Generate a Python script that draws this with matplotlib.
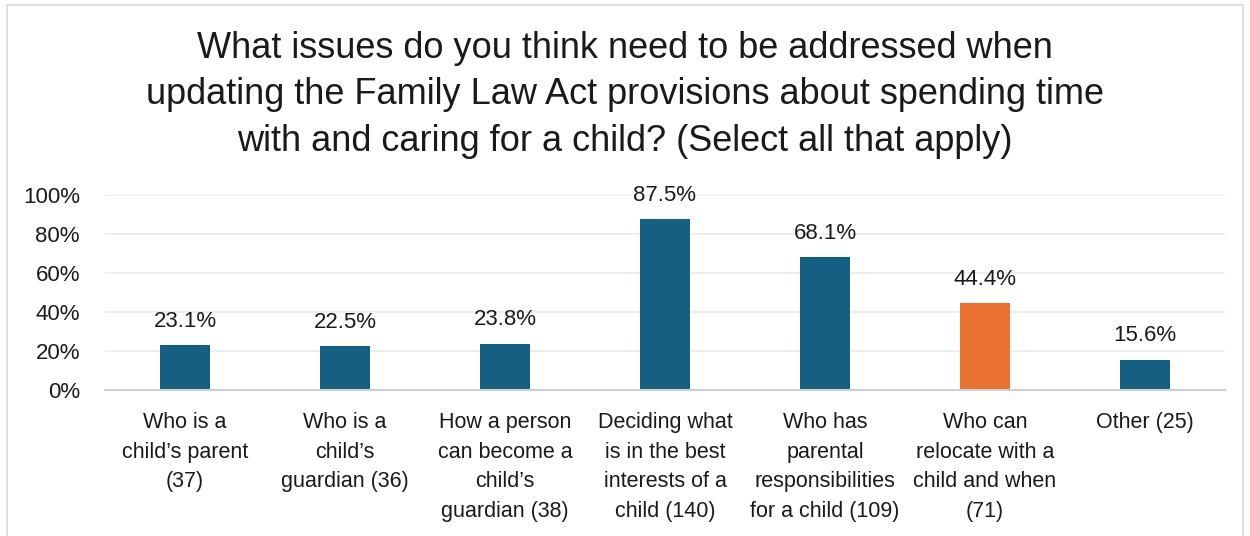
import matplotlib
matplotlib.use("Agg")
import matplotlib.pyplot as plt
from matplotlib.patches import Rectangle
from matplotlib.ticker import FuncFormatter

plt.rcParams['font.family'] = ['Liberation Sans', 'DejaVu Sans']

title = ("What issues do you think need to be addressed when\n"
         "updating the Family Law Act provisions about spending time\n"
         "with and caring for a child? (Select all that apply)")
categories = ["Who is a\nchild\u2019s parent\n(37)",
              "Who is a\nchild\u2019s\nguardian (36)",
              "How a person\ncan become a\nchild\u2019s\nguardian (38)",
              "Deciding what\nis in the best\ninterests of a\nchild (140)",
              "Who has\nparental\nresponsibilities\nfor a child (109)",
              "Who can\nrelocate with a\nchild and when\n(71)",
              "Other (25)"]
values = [23.1, 22.5, 23.8, 87.5, 68.1, 44.4, 15.6]
highlight = [False, False, False, False, False, True, False]
yticks = [0, 20, 40, 60, 80, 100]

BLUE = "#156082"
ORANGE = "#E97132"

W, H = 1250, 536
fig = plt.figure(figsize=(W / 100, H / 100), dpi=100)
fig.patch.set_facecolor("white")

# outer frame
fig.add_artist(Rectangle((7 / W, -0.05), (1243 - 7) / W, 1.05 - 5 / H,
                         transform=fig.transFigure, fill=False,
                         edgecolor="#D9D9D9", linewidth=1.2))

ax = fig.add_axes([105 / W, 1 - 390 / H, (1225 - 105) / W, (390 - 195) / H])
x = list(range(len(values)))
colors = [ORANGE if h else BLUE for h in highlight]
bars = ax.bar(x, values, width=0.3125, color=colors, zorder=3)

for xi, v in zip(x, values):
    ax.annotate(f"{v:.1f}%", (xi, v), xytext=(0, 9.5), textcoords="offset points",
                ha="center", va="bottom", fontsize=16, color="#1a1a1a")

ax.set_xlim(-0.5, len(values) - 0.5)
ax.set_ylim(0, 100)
ax.set_yticks(yticks)
ax.yaxis.set_major_formatter(FuncFormatter(lambda v, p: f"{v:.0f}%"))
ax.grid(axis="y", color="#EBEBEB", linewidth=1.2, zorder=0)
for s in ["top", "right", "left"]:
    ax.spines[s].set_visible(False)
ax.spines["bottom"].set_color("#D0D0D0")
ax.spines["bottom"].set_linewidth(1.5)
ax.spines["bottom"].set_zorder(4)
ax.tick_params(axis="both", length=0)
ax.tick_params(axis="y", labelsize=16, pad=18, labelcolor="#1a1a1a")
ax.set_xticks(x)
ax.set_xticklabels(categories, fontsize=15.5, linespacing=1.53, color="#1a1a1a")
ax.tick_params(axis="x", pad=16)
for lbl in ax.get_xticklabels():
    lbl.set_verticalalignment("top")

fig.text(0.5, 1 - 95 / H, title, ha="center", va="center", fontsize=26,
         linespacing=1.41, color="#1a1a1a")

fig.savefig("out.png", dpi=100)
